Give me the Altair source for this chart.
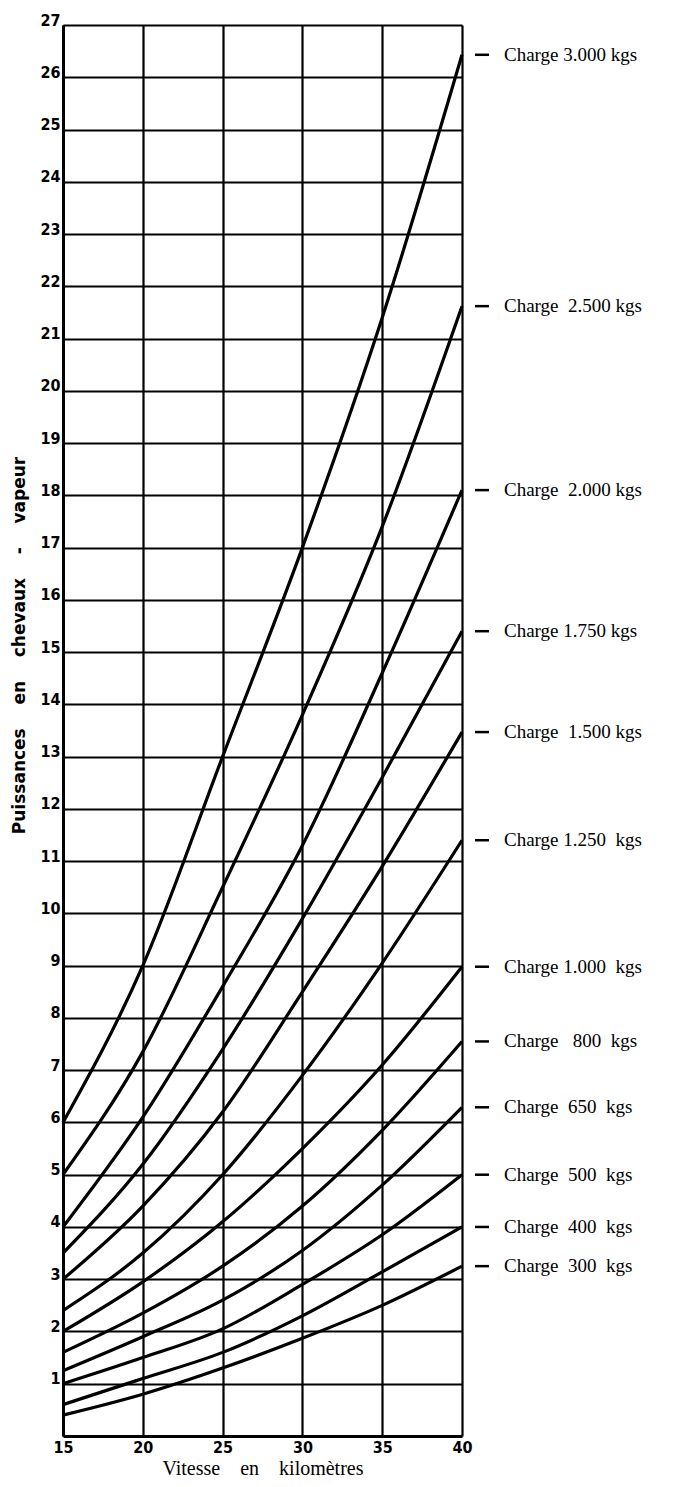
import altair as alt
import pandas as pd

# Speeds (km) where each curve crosses the vertical grid lines
vitesses = [15, 20, 25, 30, 35, 40]

charges = ["3.000", "2.500", "2.000", "1.750", "1.500", "1.250",
           "1.000", "800", "650", "500", "400", "300"]

p3000 = [6.0, 9.0, 13.0, 17.0, 21.4, 26.43]
p2500 = [5.0, 7.35, 10.5, 13.8, 17.4, 21.62]
p2000 = [4.0, 6.1, 8.6, 11.3, 14.6, 18.1]
p1750 = [3.5, 5.2, 7.4, 9.9, 12.6, 15.4]
p1500 = [3.0, 4.4, 6.2, 8.5, 10.9, 13.47]
p1250 = [2.4, 3.5, 5.0, 6.9, 9.05, 11.4]
p1000 = [2.0, 2.95, 4.1, 5.5, 7.1, 8.98]
p800 = [1.6, 2.35, 3.25, 4.4, 5.85, 7.55]
p650 = [1.25, 1.9, 2.6, 3.55, 4.8, 6.29]
p500 = [1.0, 1.5, 2.05, 2.9, 3.85, 5.0]
p400 = [0.6, 1.1, 1.6, 2.3, 3.14, 4.0]
p300 = [0.4, 0.8, 1.3, 1.87, 2.5, 3.25]

series = [p3000, p2500, p2000, p1750, p1500, p1250,
          p1000, p800, p650, p500, p400, p300]

NB = "\u00a0"
etiquettes = [
    "Charge 3.000 kgs", "Charge  2.500 kgs", "Charge  2.000 kgs",
    "Charge 1.750 kgs", "Charge  1.500 kgs", "Charge 1.250  kgs",
    "Charge 1.000  kgs", "Charge   800  kgs", "Charge  650  kgs",
    "Charge  500  kgs", "Charge  400  kgs", "Charge  300  kgs",
]

rows = []
for c, s in zip(charges, series):
    for v, p in zip(vitesses, s):
        rows.append({"charge": c, "vitesse": v, "puissance": p})
df = pd.DataFrame(rows)

lab = pd.DataFrame({
    "charge": charges,
    "vitesse": [vitesses[-1]] * len(charges),
    "puissance": [s[-1] for s in series],
    "texte": [t.replace(" ", NB) for t in etiquettes],
})

tick_font = "Liberation Sans Narrow, DejaVu Sans Condensed, Arial Narrow, sans-serif"
serif = "Liberation Serif, Times New Roman, serif"

xscale = alt.Scale(domain=[15, 40], nice=False, zero=False)
yscale = alt.Scale(domain=[0, 27], nice=False, zero=True)

xaxis = alt.Axis(
    values=vitesses, grid=True, gridColor="black", gridWidth=2.2, gridOpacity=1,
    domainColor="black", domainWidth=3, ticks=False,
    labelFont=tick_font, labelFontSize=16, labelFontWeight="bold", labelColor="black",
    labelPadding=3, labelFlush=False,
    title=(NB * 4).join(["Vitesse", "en", "kilomètres"]),
    titleFont=serif, titleFontSize=20, titleFontWeight="normal", titleColor="black",
    titlePadding=3, titleBaseline="top",
)
yaxis = alt.Axis(
    values=list(range(1, 28)), grid=True, gridColor="black", gridWidth=2.2, gridOpacity=1,
    domainColor="black", domainWidth=3, ticks=False,
    labelFont=tick_font, labelFontSize=16, labelFontWeight="bold", labelColor="black",
    labelPadding=3, labelBaseline="alphabetic",
    title=(NB * 4).join(["Puissances", "en", "chevaux", "-", "vapeur"]),
    titleFont="DejaVu Sans, sans-serif", titleFontSize=17, titleFontWeight="bold",
    titleColor="black", titleX=-44, titleY=620, titleAngle=270, titleBaseline="middle",
)

curves = alt.Chart(df).mark_line(
    color="black", strokeWidth=3.2, interpolate="monotone"
).encode(
    x=alt.X("vitesse:Q", scale=xscale, axis=xaxis),
    y=alt.Y("puissance:Q", scale=yscale, axis=yaxis),
    detail="charge:N",
)

ticks = alt.Chart(lab).mark_rule(color="black", strokeWidth=2.5).encode(
    x=alt.value(412), x2=alt.value(426),
    y=alt.Y("puissance:Q", scale=yscale),
)

texts = alt.Chart(lab).mark_text(
    align="left", baseline="middle", dx=42, font=serif, fontSize=19, color="black"
).encode(
    x=alt.X("vitesse:Q", scale=xscale),
    y=alt.Y("puissance:Q", scale=yscale),
    text="texte:N",
)

chart = alt.layer(curves, ticks, texts).properties(
    width=399, height=1411,
    autosize=alt.AutoSizeParams(type="none"),
    padding={"left": 55, "top": 17, "right": 211, "bottom": 43},
).configure_view(stroke="black", strokeWidth=3).configure(background="white")

chart.save("out.html", embed_options={"renderer": "svg", "actions": False})
